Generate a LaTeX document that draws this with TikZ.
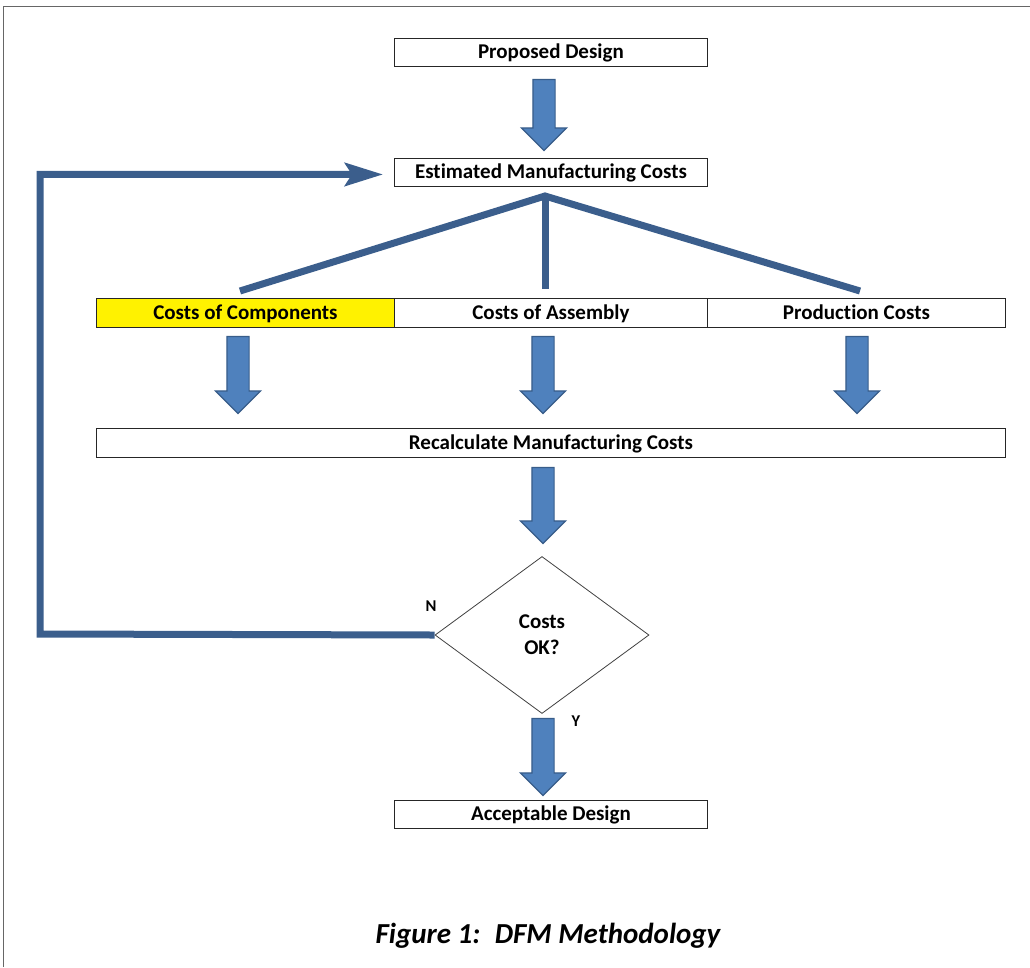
\documentclass[tikz,border=0pt]{standalone}
\usepackage{fontspec}
\setmainfont{Carlito}[Ligatures=NoCommon]
\usetikzlibrary{shapes.geometric,shapes.arrows,arrows.meta,calc}
\definecolor{arrfill}{HTML}{4F81BD}
\definecolor{arrline}{HTML}{385D8A}
\definecolor{linkblue}{HTML}{3B5E8C}
\begin{document}
\begin{tikzpicture}[x=1pt,y=1pt,
  box/.style={draw=black!85, line width=0.9pt, minimum height=28pt, inner sep=0pt,
    text height=17pt, text depth=4pt,
    font=\fontsize{21}{24}\selectfont\bfseries, anchor=north west},
  blockarrow/.style={single arrow, draw=arrline, fill=arrfill, line width=1.2pt,
    minimum width=44pt, single arrow head extend=11.5pt, inner xsep=0pt, inner ysep=10.5pt,
    single arrow tip angle=90, rotate=-90},
  link/.style={draw=linkblue, line width=7pt},
  lbl/.style={font=\fontsize{16.5}{18}\selectfont\bfseries, inner sep=0pt}]
\useasboundingbox (0,0) rectangle (1030,-967);
\draw[black!60, line width=1pt] (3,-967) -- (3,-6) -- (1030,-6);

% boxes
\node[box, minimum width=313pt] (pd) at (394,-38) {Proposed Design};
\node[box, minimum width=313pt] (emc) at (394,-158) {Estimated Manufacturing Costs};
\node[box, minimum width=298pt, minimum height=29pt, fill=yellow] (cc) at (96,-298) {Costs of Components};
\node[box, minimum width=313pt, minimum height=29pt] (ca) at (394,-298) {Costs of Assembly};
\node[box, minimum width=298pt, minimum height=29pt] (pc) at (707,-298) {Production Costs};
\node[box, minimum width=909pt, minimum height=29pt] (rmc) at (96,-428) {Recalculate Manufacturing Costs};
\node[draw=black!75, line width=0.8pt, diamond, minimum width=214pt, minimum height=157pt,
  inner sep=0pt, align=center, font=\fontsize{21}{26}\selectfont\bfseries] (dia) at (542,-635) {Costs\\OK?};
\node[box, minimum width=313pt] (ad) at (394,-800) {Acceptable Design};

% block arrows
\node[blockarrow, minimum height=71pt] (a1) at (544,-109.5) {};
\node[blockarrow, minimum height=77pt] (a2) at (238,-369.5) {};
\node[blockarrow, minimum height=77pt] (a3) at (543,-369.5) {};
\node[blockarrow, minimum height=77pt] (a4) at (857,-369.5) {};
\node[blockarrow, minimum height=76pt] (a5) at (543,-500) {};
\node[blockarrow, minimum height=77pt] (a6) at (543,-751.5) {};

% fan lines
\coordinate (apex) at (545,-196);
\coordinate (fl) at (240,-291);
\coordinate (fc) at (545,-289);
\coordinate (fr) at (860,-291);
\draw[link, line cap=butt] (fl) -- (apex) -- (fr);
\draw[link] (apex) -- (fc);

% loop back
\coordinate (lc) at (40,-634);
\coordinate (lt) at ($(emc.west)+(-11,-2)$);
\draw[link, -{Stealth[length=38pt, width=23pt, inset=7pt]}] (dia.west) -- (lc) |- (lt);

% labels
\node[lbl] (n) at (431,-606) {N};
\node[lbl] (y) at (576,-721) {Y};

% caption
\node[anchor=base, inner sep=0pt, font=\fontsize{29}{33}\selectfont\bfseries\itshape] (cap) at (548,-943) {Figure 1:\hspace{0.5em}DFM Methodology};
\end{tikzpicture}
\end{document}
